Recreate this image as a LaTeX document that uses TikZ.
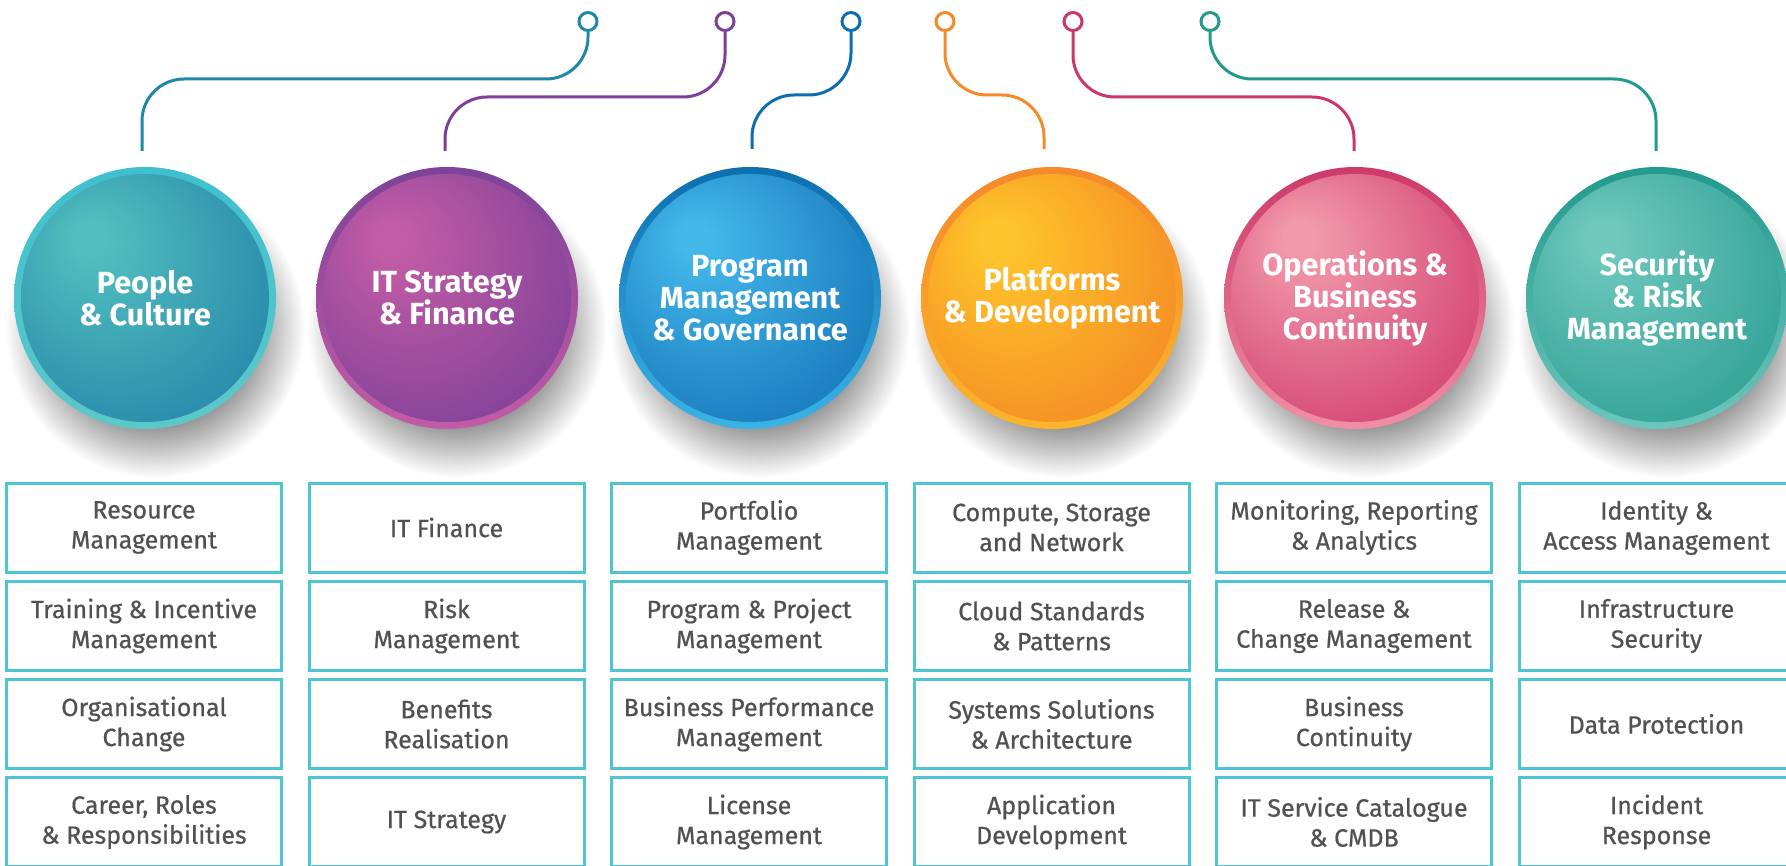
\documentclass[tikz,border=0pt]{standalone}
\usepackage{fontspec}
\setmainfont{Fira Sans}
\newfontfamily\boxfont{Fira Sans}[FakeBold=0.6]
% connector colours
\definecolor{lnA}{HTML}{2086AA}
\definecolor{lnB}{HTML}{7D3F98}
\definecolor{lnC}{HTML}{0E6DB0}
\definecolor{lnD}{HTML}{F68A28}
\definecolor{lnE}{HTML}{CB3768}
\definecolor{lnF}{HTML}{22998B}
% ring colours (top / bottom)
\definecolor{rtA}{HTML}{3FC0CE}\definecolor{rbA}{HTML}{5CC8C8}
\definecolor{rtB}{HTML}{7C4398}\definecolor{rbB}{HTML}{C35BA6}
\definecolor{rtC}{HTML}{0D6FB0}\definecolor{rbC}{HTML}{3BB3E6}
\definecolor{rtD}{HTML}{F5892B}\definecolor{rbD}{HTML}{FBB52B}
\definecolor{rtE}{HTML}{CC3A6A}\definecolor{rbE}{HTML}{F08FA5}
\definecolor{rtF}{HTML}{239A8D}\definecolor{rbF}{HTML}{6CC6BD}
% inner fill (light / dark)
\definecolor{flA}{HTML}{52BFBE}\definecolor{fdA}{HTML}{1A78A6}
\definecolor{flB}{HTML}{C35CA6}\definecolor{fdB}{HTML}{6E3A95}
\definecolor{flC}{HTML}{43B8EA}\definecolor{fdC}{HTML}{0B66AD}
\definecolor{flD}{HTML}{FEC52B}\definecolor{fdD}{HTML}{F27B22}
\definecolor{flE}{HTML}{F29AAB}\definecolor{fdE}{HTML}{CB2B62}
\definecolor{flF}{HTML}{6FC8BE}\definecolor{fdF}{HTML}{1F968A}
\definecolor{boxc}{HTML}{4EC5D3}
\definecolor{txtg}{HTML}{505153}
\definecolor{shd}{HTML}{858585}
\newcommand\mkballshade[1]{\pgfdeclareradialshading{sh#1}{\pgfpoint{-12bp}{13bp}}{color(0bp)=(fl#1); color(3bp)=(fl#1); color(44bp)=(fd#1); color(50bp)=(fd#1)}}
\mkballshade{A}\mkballshade{B}\mkballshade{C}\mkballshade{D}\mkballshade{E}\mkballshade{F}
\pgfdeclareradialshading{softshadow}{\pgfpointorigin}{color(0bp)=(shd); color(15bp)=(shd); color(25bp)=(white); color(50bp)=(white)}
\tikzset{
  ringst/.style={circle, draw, line width=1.5pt, fill=white, minimum size=9pt, inner sep=0pt},
  conn/.style={line width=1.5pt, rounded corners=21pt},
  ballst/.style={circle, minimum size=124pt, inner sep=0pt, text=white, align=center,
    font=\bfseries\fontsize{15.3}{16}\selectfont},
  boxst/.style={draw=boxc, fill=white, line width=1.5pt, minimum width=137.5pt, minimum height=44.5pt,
    inner sep=0pt, text=txtg, align=center, font=\boxfont\fontsize{12.5}{15}\selectfont},
  shadowst/.style={shading=softshadow}
}
\begin{document}
\begin{tikzpicture}[x=0.5pt,y=-0.5pt]
\useasboundingbox (0,0) rectangle (1786,866);
\clip (0,0) rectangle (1786,866);

% shadows
\begin{scope}[blend mode=multiply]
\foreach \cx in {145,447,750,1052,1355,1657}{
  \shade[shadowst] (\cx+10,328) circle[radius=150];
}
\end{scope}

% circles
\foreach \k/\cx/\lab in {A/145/{People\\\& Culture},
                         B/447/{IT Strategy\\\& Finance},
                         C/750/{Program\\Management\\\& Governance},
                         D/1052/{Platforms\\\& Development},
                         E/1355/{Operations \&\\Business\\Continuity},
                         F/1657/{Security\\\& Risk\\Management}}{
  \shade[top color=rt\k, bottom color=rb\k] (\cx,298) circle[radius=131];
  \node[ballst, shading=sh\k] (ball\k) at (\cx,298) {\lab};
}

% connectors
\coordinate (eA) at (142,151);  \coordinate (kA) at (142,79);
\coordinate (eB) at (445,151);  \coordinate (kB) at (445,97);
\coordinate (eC) at (752,149);  \coordinate (kC) at (752,95);
\coordinate (eD) at (1044,149); \coordinate (kD) at (1044,95);
\coordinate (eE) at (1354,151); \coordinate (kE) at (1354,97);
\coordinate (eF) at (1656,151); \coordinate (kF) at (1656,79);
\node[ringst, draw=lnA] (rA) at (588,21.5) {};
\node[ringst, draw=lnB] (rB) at (725,21.5) {};
\node[ringst, draw=lnC] (rC) at (851,21.5) {};
\node[ringst, draw=lnD] (rD) at (945,21.5) {};
\node[ringst, draw=lnE] (rE) at (1073,21.5) {};
\node[ringst, draw=lnF] (rF) at (1210,21.5) {};
\foreach \k in {A,B,C,D,E,F}{
  \draw[conn, draw=ln\k] (r\k.south) |- (k\k) -- (e\k);
}

% boxes column 1
\node[boxst] (a1) at (144,527.5) {Resource\\Management};
\node[boxst] (a2) at (144,626) {Training \& Incentive\\Management};
\node[boxst] (a3) at (144,724) {Organisational\\Change};
\node[boxst] (a4) at (144,822) {Career, Roles\\\& Responsibilities};
% column 2
\node[boxst] (b1) at (446.5,527.5) {IT Finance};
\node[boxst] (b2) at (446.5,626) {Risk\\Management};
\node[boxst] (b3) at (446.5,724) {Benefits\\Realisation};
\node[boxst] (b4) at (446.5,822) {IT Strategy};
% column 3
\node[boxst] (c1) at (749,527.5) {Portfolio\\Management};
\node[boxst] (c2) at (749,626) {Program \& Project\\Management};
\node[boxst] (c3) at (749,724) {Business Performance\\Management};
\node[boxst] (c4) at (749,822) {License\\Management};
% column 4
\node[boxst] (d1) at (1051.5,527.5) {Compute, Storage\\and Network};
\node[boxst] (d2) at (1051.5,626) {Cloud Standards\\\& Patterns};
\node[boxst] (d3) at (1051.5,724) {Systems Solutions\\\& Architecture};
\node[boxst] (d4) at (1051.5,822) {Application\\Development};
% column 5
\node[boxst] (e1) at (1354,527.5) {Monitoring, Reporting\\\& Analytics};
\node[boxst] (e2) at (1354,626) {Release \&\\Change Management};
\node[boxst] (e3) at (1354,724) {Business\\Continuity};
\node[boxst] (e4) at (1354,822) {IT Service Catalogue\\\& CMDB};
% column 6
\node[boxst] (f1) at (1656.5,527.5) {Identity \&\\Access Management};
\node[boxst] (f2) at (1656.5,626) {Infrastructure\\Security};
\node[boxst] (f3) at (1656.5,724) {Data Protection};
\node[boxst] (f4) at (1656.5,822) {Incident\\Response};
\end{tikzpicture}
\end{document}
